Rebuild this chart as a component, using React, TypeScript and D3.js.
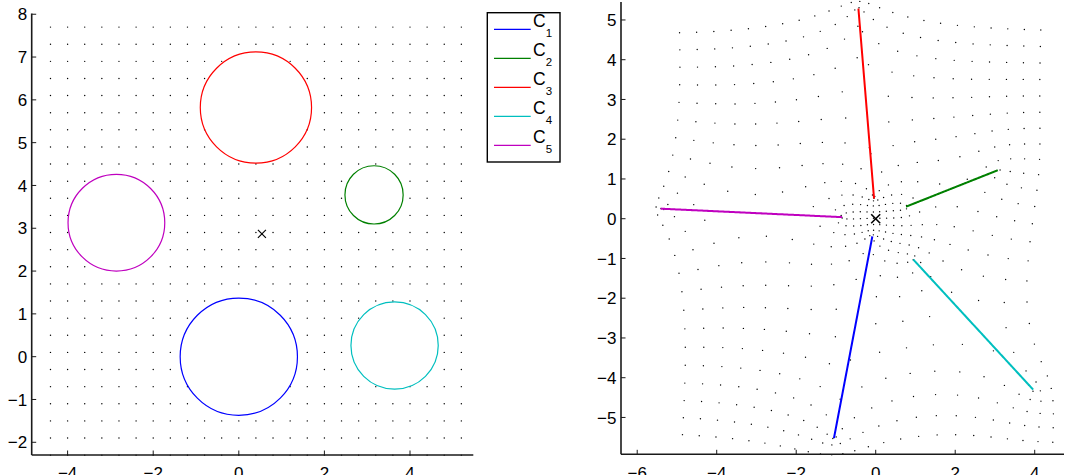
import React, { useMemo } from "react";
import * as d3 from "d3";

// Boundary circles C1..C5 of the exterior domain
const circleLabels = ["1", "2", "3", "4", "5"];
const circleColors = ["#0000ff", "#008000", "#ff0000", "#00bfbf", "#bf00bf"];
const centerX = [0.0, 3.16, 0.4, 3.64, -2.86];
const centerY = [0.0, 3.78, 5.82, 0.26, 3.13];
const radii = [1.37, 0.68, 1.3, 1.02, 1.13];

// Point sent to the origin by the map
const poleX = 0.54;
const poleY = 2.87;

// Sample grid in the physical plane
const gridX = [-4.4, -4.0, -3.6, -3.2, -2.8, -2.4, -2.0, -1.6, -1.2, -0.8, -0.4, 0.0, 0.4, 0.8, 1.2, 1.6, 2.0, 2.4, 2.8, 3.2, 3.6, 4.0, 4.4, 4.8, 5.2];
const gridY = [-2.3, -1.9, -1.5, -1.1, -0.7, -0.3, 0.1, 0.5, 0.9, 1.3, 1.7, 2.1, 2.5, 2.9, 3.3, 3.7, 4.1, 4.5, 4.9, 5.3, 5.7, 6.1, 6.5, 6.9, 7.3, 7.7];

// Axis ticks
const leftXTicks = [-4, -2, 0, 2, 4];
const leftYTicks = [-2, -1, 0, 1, 2, 3, 4, 5, 6, 7, 8];
const rightXTicks = [-6, -4, -2, 0, 2, 4];
const rightYTicks = [-5, -4, -3, -2, -1, 0, 1, 2, 3, 4, 5];

const FONT = "'Liberation Sans', Arial, Helvetica, sans-serif";
const AXIS_COLOR = "#1a1a1a";

// Householder QR least squares
function lstsq(Ain: number[][], bin: number[]): number[] {
  const m = Ain.length;
  const n = Ain[0].length;
  const R = Ain.map((r) => r.slice());
  const y = bin.slice();
  for (let k = 0; k < n; k++) {
    let norm = 0;
    for (let i = k; i < m; i++) norm += R[i][k] * R[i][k];
    norm = Math.sqrt(norm);
    if (norm === 0) continue;
    const alpha = R[k][k] > 0 ? -norm : norm;
    const v: number[] = new Array(m - k);
    for (let i = k; i < m; i++) v[i - k] = R[i][k];
    v[0] -= alpha;
    let vn = 0;
    for (let i = 0; i < v.length; i++) vn += v[i] * v[i];
    if (vn === 0) continue;
    for (let j = k; j < n; j++) {
      let s = 0;
      for (let i = k; i < m; i++) s += v[i - k] * R[i][j];
      s = (2 * s) / vn;
      for (let i = k; i < m; i++) R[i][j] -= s * v[i - k];
    }
    let s = 0;
    for (let i = k; i < m; i++) s += v[i - k] * y[i];
    s = (2 * s) / vn;
    for (let i = k; i < m; i++) y[i] -= s * v[i - k];
  }
  const x = new Array(n).fill(0);
  for (let k = n - 1; k >= 0; k--) {
    let s = y[k];
    for (let j = k + 1; j < n; j++) s -= R[k][j] * x[j];
    x[k] = s / R[k][k];
  }
  return x;
}

// Radial slit map f(z) = (z - z0) exp(g(z)), g analytic outside the circles,
// g(inf) = 0, with arg f constant on every circle.
function buildSlitMap() {
  const N = 16;
  const M = 96;
  const nc = centerX.length;
  const cols = 2 * N * nc + nc;
  const A: number[][] = [];
  const b: number[] = [];
  for (let j = 0; j < nc; j++) {
    const phi = Math.atan2(centerY[j] - poleY, centerX[j] - poleX);
    const cp = Math.cos(phi);
    const sp = Math.sin(phi);
    for (let s = 0; s < M; s++) {
      const t = (2 * Math.PI * s) / M;
      const zx = centerX[j] + radii[j] * Math.cos(t);
      const zy = centerY[j] + radii[j] * Math.sin(t);
      const row = new Array(cols).fill(0);
      for (let i = 0; i < nc; i++) {
        const dx = zx - centerX[i];
        const dy = zy - centerY[i];
        const d2 = dx * dx + dy * dy;
        const wx = (radii[i] * dx) / d2;
        const wy = (-radii[i] * dy) / d2;
        let px = 1;
        let py = 0;
        for (let k = 0; k < N; k++) {
          const nx = px * wx - py * wy;
          const ny = px * wy + py * wx;
          px = nx;
          py = ny;
          row[(i * N + k) * 2] = py;
          row[(i * N + k) * 2 + 1] = px;
        }
      }
      row[2 * N * nc + j] = -1;
      const ax = zx - poleX;
      const ay = zy - poleY;
      const rel = Math.atan2(ay * cp - ax * sp, ax * cp + ay * sp);
      A.push(row);
      b.push(-(phi + rel));
    }
  }
  const coef = lstsq(A, b);
  return (zx: number, zy: number): [number, number] => {
    let gr = 0;
    let gi = 0;
    for (let i = 0; i < nc; i++) {
      const dx = zx - centerX[i];
      const dy = zy - centerY[i];
      const d2 = dx * dx + dy * dy;
      const wx = (radii[i] * dx) / d2;
      const wy = (-radii[i] * dy) / d2;
      let px = 1;
      let py = 0;
      for (let k = 0; k < N; k++) {
        const nx = px * wx - py * wy;
        const ny = px * wy + py * wx;
        px = nx;
        py = ny;
        const p = coef[(i * N + k) * 2];
        const q = coef[(i * N + k) * 2 + 1];
        gr += p * px - q * py;
        gi += p * py + q * px;
      }
    }
    const mag = Math.exp(gr);
    const ex = mag * Math.cos(gi);
    const ey = mag * Math.sin(gi);
    const ux = zx - poleX;
    const uy = zy - poleY;
    return [ux * ex - uy * ey, ux * ey + uy * ex];
  };
}

function outsideAll(x: number, y: number) {
  for (let i = 0; i < centerX.length; i++) {
    const dx = x - centerX[i];
    const dy = y - centerY[i];
    if (Math.sqrt(dx * dx + dy * dy) <= radii[i]) return false;
  }
  return true;
}

type Scale = d3.ScaleLinear<number, number>;

function Axes({ x, y, xTicks, yTicks }: { x: Scale; y: Scale; xTicks: number[]; yTicks: number[] }) {
  const fmt = d3.format("");
  const [x0, x1] = x.range();
  const [y0, y1] = y.range();
  const tick = 4.5;
  return (
    <g fontFamily={FONT} fontSize={17} fill="#000">
      {xTicks.map((t) => (
        <g key={"x" + t}>
          <line x1={x(t)} x2={x(t)} y1={y0} y2={y0 - tick} stroke={AXIS_COLOR} strokeWidth={1} />
          <text x={x(t)} y={479} textAnchor="middle">{fmt(t)}</text>
        </g>
      ))}
      {yTicks.map((t) => (
        <g key={"y" + t}>
          <line x1={x0} x2={x0 + tick} y1={y(t)} y2={y(t)} stroke={AXIS_COLOR} strokeWidth={1} />
          <text x={x0 - 4.5} y={y(t)} dy="0.36em" textAnchor="end">{fmt(t)}</text>
        </g>
      ))}
      <line x1={x0} x2={x1} y1={y0} y2={y0} stroke={AXIS_COLOR} strokeWidth={1.6} />
      <line x1={x0} x2={x0} y1={y0} y2={y1} stroke={AXIS_COLOR} strokeWidth={1.6} />
    </g>
  );
}

function Cross({ cx, cy, size, width }: { cx: number; cy: number; size: number; width: number }) {
  const h = size / 2;
  return (
    <g stroke="#000" strokeWidth={width}>
      <line x1={cx - h} x2={cx + h} y1={cy - h} y2={cy + h} />
      <line x1={cx - h} x2={cx + h} y1={cy + h} y2={cy - h} />
    </g>
  );
}

export default function App() {
  const { points, mapped, slits } = useMemo(() => {
    const f = buildSlitMap();
    const pts: [number, number][] = [];
    for (const gx of gridX) for (const gy of gridY) if (outsideAll(gx, gy)) pts.push([gx, gy]);
    const img = pts.map(([px, py]) => f(px, py));
    const sl = centerX.map((cx, i) => {
      const arr: [number, number][] = [];
      for (let s = 0; s <= 360; s++) {
        const t = (2 * Math.PI * s) / 360;
        arr.push(f(cx + radii[i] * Math.cos(t), centerY[i] + radii[i] * Math.sin(t)));
      }
      return arr;
    });
    return { points: pts, mapped: img, slits: sl };
  }, []);

  // Physical plane
  const lx = d3.scaleLinear().domain([-4.839, 5.479]).range([31.7, 473.3]);
  const ly = d3.scaleLinear().domain([-2.297, 8.015]).range([455, 13.6]);
  // Slit plane
  const rx = d3.scaleLinear().domain([-6.408, 4.737]).range([621, 1064]);
  const ry = d3.scaleLinear().domain([-5.927, 5.452]).range([454.3, 2]);

  const slitLine = d3
    .line<[number, number]>()
    .x((d) => rx(d[0]))
    .y((d) => ry(d[1]));

  const legendTop = 29.3;
  const legendStep = 29;

  return (
    <svg
      width={1068}
      height={475}
      style={{ position: "absolute", left: 0, top: 0, display: "block", background: "#fff" }}
    >
      <rect width={1068} height={475} fill="#fff" />

      {/* left panel: circles and grid */}
      <g>
        {points.map(([px, py], i) => (
          <circle key={i} cx={lx(px)} cy={ly(py)} r={0.7} fill="#000" />
        ))}
        {centerX.map((cx, i) => (
          <circle
            key={"c" + i}
            cx={lx(cx)}
            cy={ly(centerY[i])}
            r={lx(cx + radii[i]) - lx(cx)}
            fill="none"
            stroke={circleColors[i]}
            strokeWidth={1.2}
          />
        ))}
        <Cross cx={lx(poleX)} cy={ly(poleY)} size={8} width={1.1} />
        <Axes x={lx} y={ly} xTicks={leftXTicks} yTicks={leftYTicks} />
      </g>

      {/* legend */}
      <g fontFamily={FONT}>
        <rect x={487.3} y={12.7} width={72.7} height={149.3} fill="#fff" stroke="#000" strokeWidth={1.4} />
        {circleLabels.map((lab, i) => {
          const yy = legendTop + i * legendStep;
          return (
            <g key={"lg" + i}>
              <line x1={494} x2={530.7} y1={yy} y2={yy} stroke={circleColors[i]} strokeWidth={1.2} />
              <text x={533} y={yy - 2} fontSize={17.5} fill="#000">
                C
                <tspan fontSize={11.5} dy={9.4}>{lab}</tspan>
              </text>
            </g>
          );
        })}
      </g>

      {/* right panel: radial slit image */}
      <g>
        {mapped.map(([px, py], i) => (
          <circle key={"m" + i} cx={rx(px)} cy={ry(py)} r={0.7} fill="#000" />
        ))}
        {slits.map((arr, i) => (
          <path key={"s" + i} d={slitLine(arr) || ""} fill="none" stroke={circleColors[i]} strokeWidth={2} />
        ))}
        <Cross cx={rx(0)} cy={ry(0)} size={9} width={1.6} />
        <Axes x={rx} y={ry} xTicks={rightXTicks} yTicks={rightYTicks} />
      </g>
    </svg>
  );
}
